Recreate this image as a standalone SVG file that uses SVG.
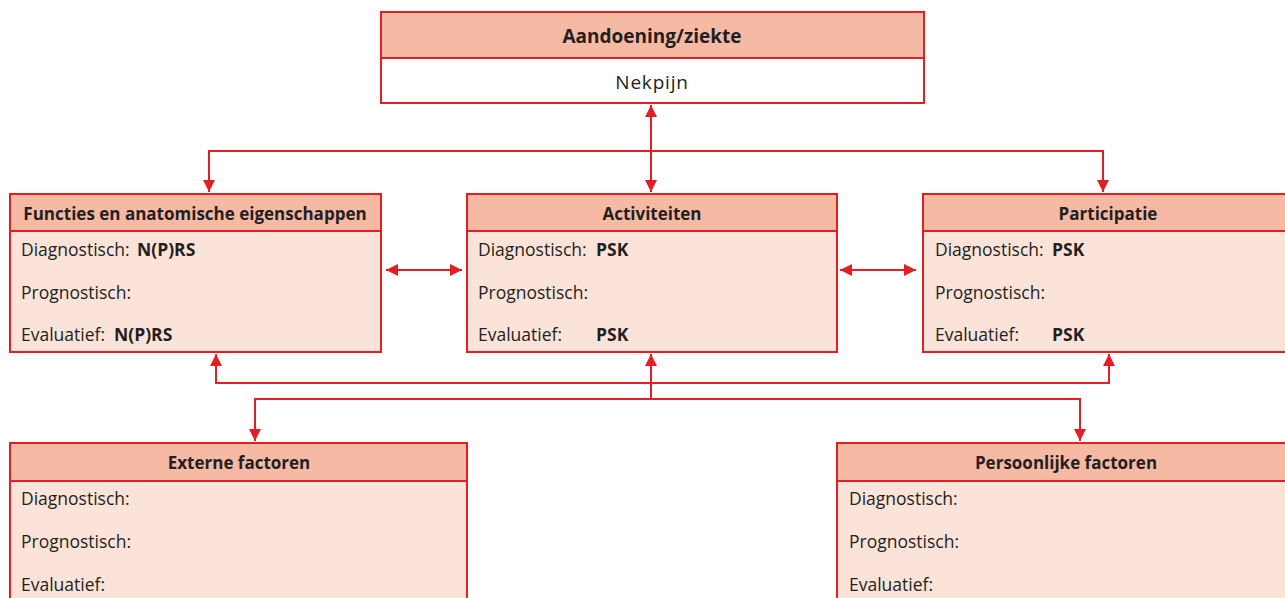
<svg xmlns="http://www.w3.org/2000/svg" width="1285" height="598" viewBox="0 0 1285 598">
<style>
.hd{fill:#F6B9A4;stroke:#E31E24;stroke-width:2}
.bd{fill:#FBE3D9;stroke:#E31E24;stroke-width:2}
.wt{fill:#FFFFFF;stroke:#E31E24;stroke-width:2}
.t{font-family:"Open Sans","Liberation Sans",sans-serif;font-size:17.5px;fill:#231F20}
.h{font-size:17px;font-weight:bold}
.b{font-weight:bold}
.c{text-anchor:middle}
.ln{fill:none;stroke:#E31E24;stroke-width:2}
</style>
<defs>
<marker id="ah" viewBox="0 0 12 12" refX="12" refY="6" markerWidth="12" markerHeight="12" markerUnits="userSpaceOnUse" orient="auto-start-reverse">
<path d="M0,0 L12,6 L0,12 Z" fill="#E31E24"/>
</marker>
</defs>
<g id="connectors">
<line class="ln" x1="651" y1="105" x2="651" y2="192" marker-start="url(#ah)" marker-end="url(#ah)"/>
<polyline class="ln" points="209,192 209,151 1103,151 1103,192" marker-start="url(#ah)" marker-end="url(#ah)"/>
<line class="ln" x1="386" y1="270" x2="462" y2="270" marker-start="url(#ah)" marker-end="url(#ah)"/>
<line class="ln" x1="840" y1="270" x2="916" y2="270" marker-start="url(#ah)" marker-end="url(#ah)"/>
<polyline class="ln" points="216,354 216,383 1109,383 1109,354" marker-start="url(#ah)" marker-end="url(#ah)"/>
<line class="ln" x1="651" y1="399" x2="651" y2="354" marker-end="url(#ah)"/>
<polyline class="ln" points="255,441 255,399 1080,399 1080,441" marker-start="url(#ah)" marker-end="url(#ah)"/>
</g>
<g id="aandoening">
<rect class="hd" x="381" y="12" width="543" height="46"/>
<rect class="wt" x="381" y="58" width="543" height="45"/>
<text class="t b c" x="652" y="43" style="font-size:19px">Aandoening/ziekte</text>
<text class="t c" x="652" y="89" style="font-size:19px;letter-spacing:0.8px">Nekpijn</text>
</g>
<g id="functies">
<rect class="hd" x="10" y="194" width="371" height="37"/>
<rect class="bd" x="10" y="231" width="371" height="121"/>
<text class="t h c" x="195" y="220">Functies en anatomische eigenschappen</text>
<text class="t" x="21" y="256">Diagnostisch: <tspan class="b" x="137">N(P)RS</tspan></text>
<text class="t" x="21" y="299">Prognostisch:</text>
<text class="t" x="21" y="341">Evaluatief: <tspan class="b" x="114">N(P)RS</tspan></text>
</g>
<g id="activiteiten">
<rect class="hd" x="467" y="194" width="370" height="37"/>
<rect class="bd" x="467" y="231" width="370" height="121"/>
<text class="t h c" x="652" y="220">Activiteiten</text>
<text class="t" x="478" y="256">Diagnostisch: <tspan class="b" x="596">PSK</tspan></text>
<text class="t" x="478" y="299">Prognostisch:</text>
<text class="t" x="478" y="341">Evaluatief: <tspan class="b" x="596">PSK</tspan></text>
</g>
<g id="participatie">
<rect class="hd" x="923" y="194" width="370" height="37"/>
<rect class="bd" x="923" y="231" width="370" height="121"/>
<text class="t h c" x="1108" y="220">Participatie</text>
<text class="t" x="935" y="256">Diagnostisch: <tspan class="b" x="1052">PSK</tspan></text>
<text class="t" x="935" y="299">Prognostisch:</text>
<text class="t" x="935" y="341">Evaluatief: <tspan class="b" x="1052">PSK</tspan></text>
</g>
<g id="externe">
<rect class="hd" x="10" y="443" width="457" height="38"/>
<rect class="bd" x="10" y="481" width="457" height="130"/>
<text class="t h c" x="239" y="469">Externe factoren</text>
<text class="t" x="21" y="505">Diagnostisch:</text>
<text class="t" x="21" y="548">Prognostisch:</text>
<text class="t" x="21" y="591">Evaluatief:</text>
</g>
<g id="persoonlijk">
<rect class="hd" x="837" y="443" width="457" height="38"/>
<rect class="bd" x="837" y="481" width="457" height="130"/>
<text class="t h c" x="1066" y="469">Persoonlijke factoren</text>
<text class="t" x="849" y="505">Diagnostisch:</text>
<text class="t" x="849" y="548">Prognostisch:</text>
<text class="t" x="849" y="591">Evaluatief:</text>
</g>
</svg>
